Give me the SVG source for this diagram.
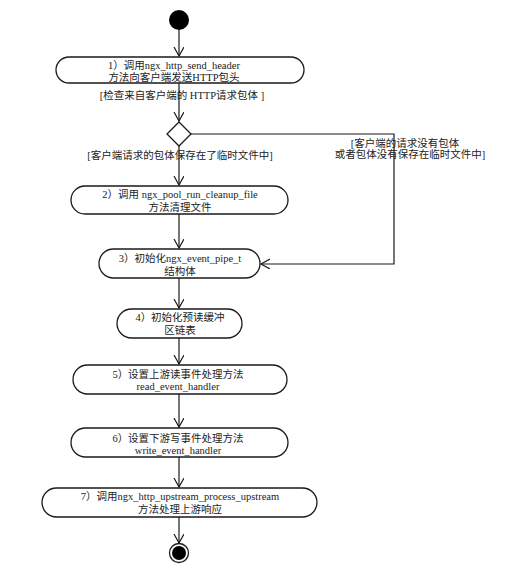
<svg xmlns="http://www.w3.org/2000/svg" width="515" height="570" viewBox="0 0 515 570">
<defs>
<style>
.n{fill:#fff;stroke:#1a1a1a;stroke-width:1.3}
.t{font-family:"Liberation Serif","Noto Sans CJK SC",serif;font-size:10.5px;fill:#222;text-anchor:middle}
.c{fill:none;stroke:#1a1a1a;stroke-width:1.2}
</style>
<marker id="a" markerWidth="12" markerHeight="12" refX="9" refY="5" orient="auto" markerUnits="userSpaceOnUse">
<path d="M0,0 L9,5 L0,10" fill="none" stroke="#1a1a1a" stroke-width="1.2"/>
</marker>
</defs>
<rect width="515" height="570" fill="#fff"/>
<g id="connectors">
<line class="c" x1="179" y1="30" x2="179" y2="56" marker-end="url(#a)"/>
<line class="c" x1="179" y1="83" x2="179" y2="121" marker-end="url(#a)"/>
<polyline class="c" points="191,134 394,134 394,264 261,264" marker-end="url(#a)"/>
<line class="c" x1="179" y1="146" x2="179" y2="185" marker-end="url(#a)"/>
<line class="c" x1="179" y1="214" x2="179" y2="248" marker-end="url(#a)"/>
<line class="c" x1="179" y1="278" x2="179" y2="308" marker-end="url(#a)"/>
<line class="c" x1="179" y1="338" x2="179" y2="364" marker-end="url(#a)"/>
<line class="c" x1="179" y1="394" x2="179" y2="427" marker-end="url(#a)"/>
<line class="c" x1="179" y1="457" x2="179" y2="487" marker-end="url(#a)"/>
<line class="c" x1="179" y1="517" x2="179" y2="543" marker-end="url(#a)"/>
<text class="t" x="182" y="99">[检查来自客户端的 HTTP请求包体 ]</text>
<text class="t" x="180" y="159">[客户端请求的包体保存在了临时文件中]</text>
<text class="t" x="405" y="147">[客户端的请求没有包体</text>
<text class="t" x="410" y="158">或者包体没有保存在临时文件中]</text>
</g>
<g id="start"><circle cx="179" cy="20" r="10" fill="#000"/></g>
<g id="node1">
<rect class="n" x="56" y="57" width="248" height="26" rx="13"/>
<text class="t" x="174" y="69">1）调用ngx_http_send_header</text>
<text class="t" x="174" y="81">方法向客户端发送HTTP包头</text>
</g>
<g id="decision"><polygon class="n" points="179,122 191,134 179,146 167,134"/></g>
<g id="node2">
<rect class="n" x="71" y="186" width="217" height="28" rx="14"/>
<text class="t" x="180" y="198">2）调用 ngx_pool_run_cleanup_file</text>
<text class="t" x="180" y="211">方法清理文件</text>
</g>
<g id="node3">
<rect class="n" x="99" y="249" width="161" height="29" rx="14.5"/>
<text class="t" x="180" y="262">3）初始化ngx_event_pipe_t</text>
<text class="t" x="180" y="275">结构体</text>
</g>
<g id="node4">
<rect class="n" x="117" y="309" width="125" height="29" rx="14.5"/>
<text class="t" x="180" y="321">4）初始化预读缓冲</text>
<text class="t" x="180" y="334">区链表</text>
</g>
<g id="node5">
<rect class="n" x="73" y="365" width="214" height="29" rx="14.5"/>
<text class="t" x="178" y="378">5）设置上游读事件处理方法</text>
<text class="t" x="178" y="390">read_event_handler</text>
</g>
<g id="node6">
<rect class="n" x="71" y="428" width="217" height="29" rx="14.5"/>
<text class="t" x="178" y="442">6）设置下游写事件处理方法</text>
<text class="t" x="178" y="454">write_event_handler</text>
</g>
<g id="node7">
<rect class="n" x="42" y="488" width="275" height="29" rx="14.5"/>
<text class="t" x="180" y="500">7）调用ngx_http_upstream_process_upstream</text>
<text class="t" x="180" y="513">方法处理上游响应</text>
</g>
<g id="end">
<circle cx="179" cy="553" r="9.5" fill="#fff" stroke="#1a1a1a" stroke-width="1.3"/>
<circle cx="179" cy="553" r="7" fill="#000"/>
</g>
</svg>
